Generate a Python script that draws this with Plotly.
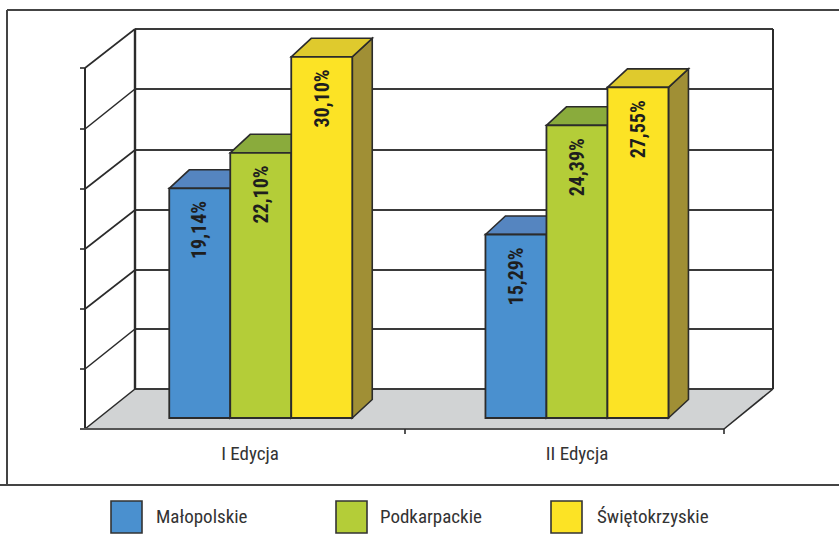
import plotly.graph_objects as go

categories = ["I Edycja", "II Edycja"]
series_names = ["Małopolskie", "Podkarpackie", "Świętokrzyskie"]
malopolskie = [19.14, 15.29]
podkarpackie = [22.10, 24.39]
swietokrzyskie = [30.10, 27.55]
series_values = [malopolskie, podkarpackie, swietokrzyskie]

FRONT = ["#4a90cf", "#b4cd38", "#fce325"]
TOP = ["#5585c0", "#8aab3c", "#dfca2d"]
SIDE = ["#3f6f9f", "#7f9434", "#a08f35"]
INK = "#2b2b2b"
FONT = "Roboto Condensed, DejaVu Sans Condensed, Roboto, sans-serif"
W, H = 839, 542
AXIS_BOTTOM = 440          # pixel row of the plot-area bottom
PX_PER_UNIT_X = 316.2
X_ZERO_PX = 260.75
PX_PER_UNIT_Y = 12.0
Y_ZERO_PX = 418.0
BAR_PX = 61.0
BAR_W = BAR_PX / PX_PER_UNIT_X
DX = 20 / PX_PER_UNIT_X
DY = 18.5 / PX_PER_UNIT_Y
TICK_X = [(250 - X_ZERO_PX) / PX_PER_UNIT_X, (577 - X_ZERO_PX) / PX_PER_UNIT_X]


def px(x):
    return x / W


def py(y):
    return (AXIS_BOTTOM - y) / AXIS_BOTTOM


shapes = []


def line(x0, y0, x1, y1, w=2.0, color=INK):
    shapes.append(dict(type="line", xref="paper", yref="paper", layer="below",
                       x0=px(x0), y0=py(y0), x1=px(x1), y1=py(y1),
                       line=dict(color=color, width=w)))


def poly(points, fill, ref="paper", lw=0.0):
    if ref == "paper":
        pts = [(px(a), py(b)) for a, b in points]
    else:
        pts = points
    path = "M " + " L ".join(f"{a},{b}" for a, b in pts) + " Z"
    shapes.append(dict(type="path", xref="paper" if ref == "paper" else "x",
                       yref="paper" if ref == "paper" else "y", layer="below", path=path,
                       fillcolor=fill, line=dict(color=INK, width=lw)))


# Frame
line(7, 10, W, 10, 2, "#444444")
line(7, 10, 7, 485, 2, "#444444")
line(0, 485, W, 485, 2, "#444444")

# Floor
poly([(85, 429), (135, 389), (773, 389), (724, 429)], "#d1d3d4")

# Back wall and gridlines
for gy in [29, 89, 150, 210, 270, 329, 389]:
    line(135, gy, 773, gy, 2, "#3a3a3a")
line(135, 29, 135, 389, 2.4)
line(773, 29, 773, 389, 2)

# Left wall, ticks
left_rows = [68, 129, 189, 249, 309, 369, 429]
back_rows = [29, 89, 150, 210, 270, 329, 389]
line(85, 68, 85, 429, 2)
for fy, by in zip(left_rows, back_rows):
    line(85, fy, 135, by, 1.6)
    line(80, fy, 85, fy, 1.6)

# Floor front edge, right edge, category ticks
line(80, 429, 724, 429, 2, "#555555")
line(724, 429, 773, 389, 1.6)
line(405, 429, 405, 434, 1.6)
line(724, 429, 724, 434, 1.6)

# Depth faces, computed from the values on the data axes
for s, values in enumerate(series_values):
    offset = (s - 1) * BAR_W
    for g, v in enumerate(values):
        xl = g + offset - BAR_W / 2
        xr = xl + BAR_W
        poly([(xr, 0), (xr + DX, DY), (xr + DX, v + DY), (xr, v)], SIDE[s], ref="data", lw=1.6)
        poly([(xl, v), (xl + DX, v + DY), (xr + DX, v + DY), (xr, v)], TOP[s], ref="data", lw=1.6)

# Legend
legend_boxes = [111, 336, 551]
legend_text_x = [156, 380, 597]
annotations = []
for s, name in enumerate(series_names):
    x0 = legend_boxes[s]
    shapes.append(dict(type="rect", xref="paper", yref="paper", layer="above",
                       x0=px(x0), x1=px(x0 + 31), y0=py(501), y1=py(533),
                       fillcolor=FRONT[s], line=dict(color="#333333", width=1.6)))
    annotations.append(dict(text=name, xref="paper", yref="paper", x=px(legend_text_x[s] - 2),
                            y=py(516), xanchor="left", yanchor="middle", showarrow=False,
                            font=dict(family=FONT, size=19, color="#333333")))

fig = go.Figure()
for s, values in enumerate(series_values):
    fig.add_trace(go.Bar(
        name=series_names[s], x=[0, 1], y=values,
        marker=dict(color=FRONT[s], line=dict(color=INK, width=1.8)),
        showlegend=False,
    ))
    for g, v in enumerate(values):
        annotations.append(dict(
            text=f"{v:.2f}%".replace(".", ","), x=g + (s - 1) * BAR_W, y=v,
            xref="x", yref="y", xanchor="center", yanchor="top", yshift=-11,
            textangle=-90, showarrow=False,
            font=dict(family=FONT, size=20, color="#1e1e1e", weight="bold"),
        ))

fig.update_layout(
    width=W, height=H, autosize=False,
    margin=dict(l=0, r=0, t=0, b=H - AXIS_BOTTOM, pad=0),
    paper_bgcolor="white", plot_bgcolor="rgba(0,0,0,0)",
    barmode="group", bargap=1 - 3 * BAR_W, bargroupgap=0,
    shapes=shapes, annotations=annotations, showlegend=False,
    xaxis=dict(range=[-X_ZERO_PX / PX_PER_UNIT_X, (W - X_ZERO_PX) / PX_PER_UNIT_X],
               tickmode="array", tickvals=TICK_X, ticktext=categories,
               showgrid=False, zeroline=False, showline=False, ticks="",
               tickfont=dict(family=FONT, size=19, color="#333333")),
    yaxis=dict(range=[(Y_ZERO_PX - AXIS_BOTTOM) / PX_PER_UNIT_Y, Y_ZERO_PX / PX_PER_UNIT_Y],
               visible=False),
)

fig.write_html("out.html", config={"displayModeBar": False},
               post_script="document.body.style.margin='0';")
